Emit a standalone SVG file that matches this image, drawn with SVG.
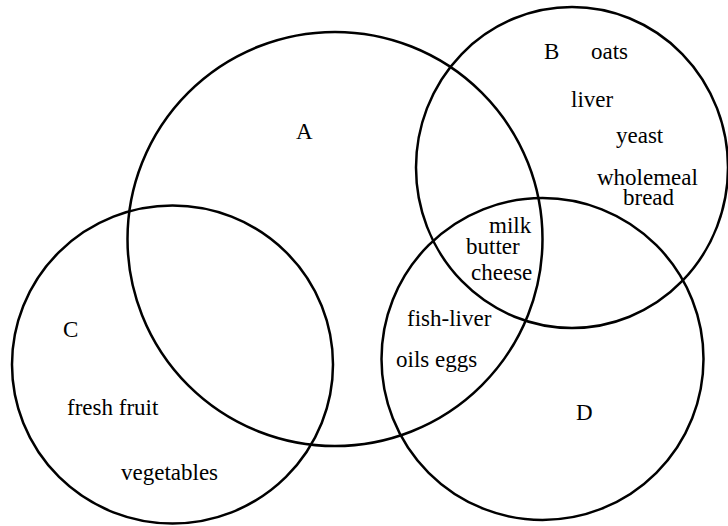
<svg xmlns="http://www.w3.org/2000/svg" width="728" height="526" viewBox="0 0 728 526">
<style>
.set{fill:none;stroke:#000;stroke-width:2.5}
text{font-family:"Liberation Serif","Times New Roman",serif;font-size:23px;fill:#000}
</style>
<rect width="728" height="526" fill="#fff"/>
<g id="setA"><ellipse class="set" cx="335" cy="239" rx="207.5" ry="207"/><text x="296" y="139">A</text></g>
<g id="setB"><ellipse class="set" cx="572" cy="167.5" rx="156" ry="160.5"/><text x="544" y="59">B</text></g>
<g id="setC"><ellipse class="set" cx="172.5" cy="364.5" rx="160.5" ry="159"/><text x="63" y="337">C</text></g>
<g id="setD"><ellipse class="set" cx="542.5" cy="359" rx="161" ry="161"/><text x="576" y="420">D</text></g>
<g id="labels">
<text x="591" y="59">oats</text>
<text x="571" y="107">liver</text>
<text x="616" y="143">yeast</text>
<text x="597" y="185">wholemeal</text>
<text x="623" y="205">bread</text>
<text x="489" y="233">milk</text>
<text x="466" y="254">butter</text>
<text x="471" y="280">cheese</text>
<text x="407" y="326">fish-liver</text>
<text x="396" y="367">oils eggs</text>
<text x="67" y="415">fresh fruit</text>
<text x="121" y="480">vegetables</text>
</g>
<g id="connectors"/>
</svg>
